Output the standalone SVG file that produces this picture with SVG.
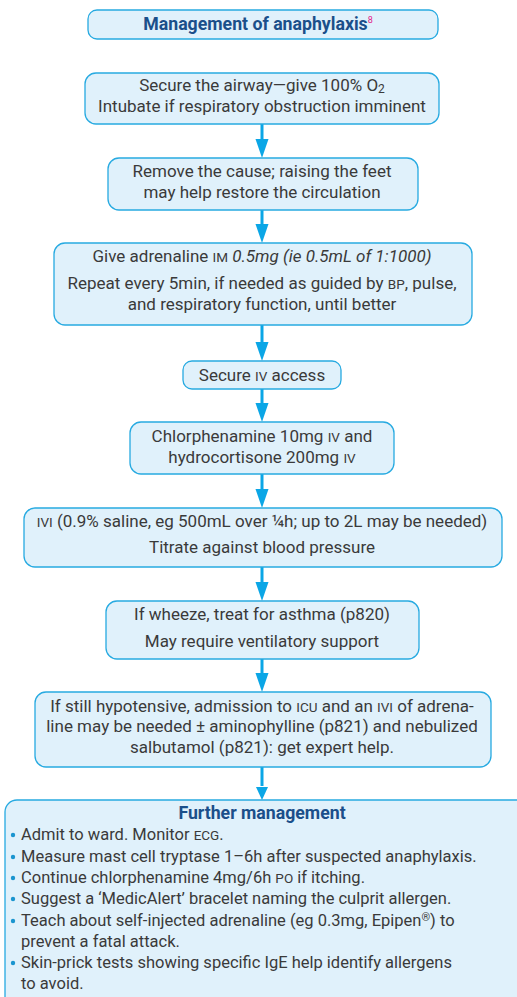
<svg xmlns="http://www.w3.org/2000/svg" width="517" height="997" viewBox="0 0 517 997">
<style>
.box{fill:#e0f1fb;stroke:#27aae1;stroke-width:1.3}
.t{font-family:Roboto,"Liberation Sans",sans-serif;font-size:17px;fill:#3a3a3a;text-anchor:middle}
.l{font-family:Roboto,"Liberation Sans",sans-serif;font-size:16.5px;fill:#3a3a3a}
.sc{font-size:13.5px}
.h{font-family:Roboto,"Liberation Sans",sans-serif;font-size:17.7px;font-weight:bold;fill:#1b4f8a;text-anchor:middle}
.c line{stroke:#0ba6e6;stroke-width:3}
.c polygon{fill:#0ba6e6}
.dot{fill:#1a95cf}
</style>
<rect width="517" height="997" fill="#ffffff"/>
<g id="title">
<rect class="box" x="88" y="10" width="350" height="29" rx="9"/>
<text class="h" x="258" y="30">Management of anaphylaxis<tspan font-size="9" fill="#e0218a" font-weight="normal" dy="-7">8</tspan></text>
</g>
<g class="c" id="connectors">
<line x1="262" y1="124" x2="262" y2="141"/><polygon points="255.5,139 268.5,139 262,158"/>
<line x1="262" y1="210" x2="262" y2="226"/><polygon points="255.5,224 268.5,224 262,243"/>
<line x1="262" y1="325" x2="262" y2="344"/><polygon points="255.5,342 268.5,342 262,361"/>
<line x1="262" y1="389" x2="262" y2="405"/><polygon points="255.5,403 268.5,403 262,422"/>
<line x1="262" y1="474" x2="262" y2="491"/><polygon points="255.5,489 268.5,489 262,508"/>
<line x1="262" y1="567" x2="262" y2="584"/><polygon points="255.5,582 268.5,582 262,601"/>
<line x1="262" y1="659" x2="262" y2="675"/><polygon points="255.5,673 268.5,673 262,692"/>
<line x1="262" y1="767" x2="262" y2="786"/><polygon points="256,787 268,787 262,800"/>
</g>
<g id="n1">
<rect class="box" x="85" y="73" width="354" height="51" rx="11"/>
<text class="t" x="262" y="91">Secure the airway—give 100% O<tspan font-size="12" dy="1.5">2</tspan></text>
<text class="t" x="262" y="112">Intubate if respiratory obstruction imminent</text>
</g>
<g id="n2">
<rect class="box" x="108" y="158" width="310" height="52" rx="11"/>
<text class="t" x="262" y="177">Remove the cause; raising the feet</text>
<text class="t" x="262" y="198">may help restore the circulation</text>
</g>
<g id="n3">
<rect class="box" x="54" y="243" width="418" height="82" rx="11"/>
<text class="t" x="262" y="262">Give adrenaline <tspan class="sc">IM</tspan> <tspan font-style="italic">0.5mg</tspan> <tspan font-style="italic">(ie 0.5mL of 1:1000)</tspan></text>
<text class="t" x="262" y="289">Repeat every 5min, if needed as guided by <tspan class="sc">BP</tspan>, pulse,</text>
<text class="t" x="262" y="310">and respiratory function, until better</text>
</g>
<g id="n4">
<rect class="box" x="183" y="361" width="158" height="28" rx="9"/>
<text class="t" x="262" y="381">Secure <tspan class="sc">IV</tspan> access</text>
</g>
<g id="n5">
<rect class="box" x="130" y="422" width="264" height="52" rx="11"/>
<text class="t" x="262" y="442">Chlorphenamine 10mg <tspan class="sc">IV</tspan> and</text>
<text class="t" x="262" y="463">hydrocortisone 200mg <tspan class="sc">IV</tspan></text>
</g>
<g id="n6">
<rect class="box" x="24" y="508" width="478" height="59" rx="11"/>
<text class="t" x="262" y="527"><tspan class="sc">IVI</tspan> (0.9% saline, eg 500mL over ¼h; up to 2L may be needed)</text>
<text class="t" x="262" y="553">Titrate against blood pressure</text>
</g>
<g id="n7">
<rect class="box" x="106" y="601" width="313" height="58" rx="11"/>
<text class="t" x="262" y="620">If wheeze, treat for asthma (p820)</text>
<text class="t" x="262" y="647">May require ventilatory support</text>
</g>
<g id="n8">
<rect class="box" x="35" y="692" width="456" height="75" rx="11"/>
<text class="t" x="262" y="712">If still hypotensive, admission to <tspan class="sc">ICU</tspan> and an <tspan class="sc">IVI</tspan> of adrena-</text>
<text class="t" x="262" y="732">line may be needed ± aminophylline (p821) and nebulized</text>
<text class="t" x="262" y="753">salbutamol (p821): get expert help.</text>
</g>
<g id="n9">
<rect class="box" x="5" y="800" width="530" height="220" rx="12"/>
<text class="h" x="262" y="819" font-size="18.4">Further management</text>
<circle class="dot" cx="13" cy="835" r="2.2"/>
<text class="l" x="21" y="840">Admit to ward. Monitor <tspan class="sc">ECG</tspan>.</text>
<circle class="dot" cx="13" cy="857" r="2.2"/>
<text class="l" x="21" y="862">Measure mast cell tryptase 1–6h after suspected anaphylaxis.</text>
<circle class="dot" cx="13" cy="878" r="2.2"/>
<text class="l" x="21" y="883">Continue chlorphenamine 4mg/6h <tspan class="sc">PO</tspan> if itching.</text>
<circle class="dot" cx="13" cy="899" r="2.2"/>
<text class="l" x="21" y="904">Suggest a ‘MedicAlert’ bracelet naming the culprit allergen.</text>
<circle class="dot" cx="13" cy="921" r="2.2"/>
<text class="l" x="21" y="926">Teach about self-injected adrenaline (eg 0.3mg, Epipen<tspan font-size="11" dy="-5">®</tspan><tspan dy="5">) to</tspan></text>
<text class="l" x="21" y="947">prevent a fatal attack.</text>
<circle class="dot" cx="13" cy="963" r="2.2"/>
<text class="l" x="21" y="968">Skin-prick tests showing specific IgE help identify allergens</text>
<text class="l" x="21" y="989">to avoid.</text>
</g>
</svg>
